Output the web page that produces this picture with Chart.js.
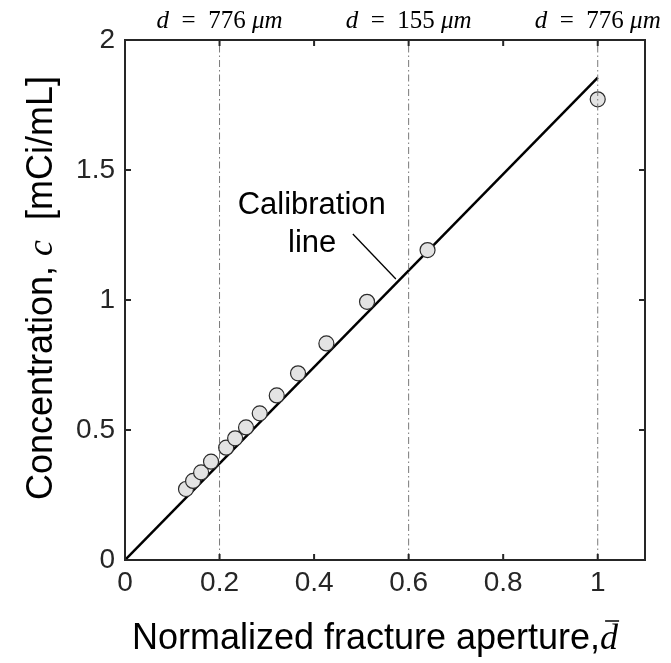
<!DOCTYPE html>
<html>
<head>
<meta charset="utf-8">
<script src="https://cdn.jsdelivr.net/npm/chart.js@4/dist/chart.umd.min.js"></script>
<style>
  body { margin: 0; background: #fff; }
  canvas { display: block; }
</style>
</head>
<body>
<canvas id="calChart" width="671" height="663"></canvas>
<script>
// measured points (normalized aperture vs concentration)
const apertureX = [0.129, 0.144, 0.161, 0.182, 0.214, 0.233, 0.256, 0.285, 0.321, 0.366, 0.426, 0.512, 0.640, 1.0];
const concY = [0.273, 0.304, 0.337, 0.378, 0.432, 0.468, 0.510, 0.564, 0.633, 0.718, 0.833, 0.993, 1.192, 1.772];

// calibration line end points
const fitX = [0, 1.0];
const fitY = [0, 1.855];

// dash-dot guides and the aperture written above them (um)
const guideX = [0.2, 0.6, 1.0];
const guideD = ['776', '155', '776'];

const xTicks = [0, 0.2, 0.4, 0.6, 0.8, 1];
const yTicks = [0, 0.5, 1, 1.5, 2];

// "Calibration line" note: text anchors and leader line (data coords)
const noteTextX = [0.395, 0.396];
const noteTextY = [1.362, 1.219];
const noteText = ['Calibration', 'line'];
const leaderX = [0.482, 0.573];
const leaderY = [1.254, 1.081];

const SANS = '"Liberation Sans", Arial, sans-serif';
const SERIF = '"Liberation Serif", "Times New Roman", serif';
const AXIS = '#262626';

function drawRuns(ctx, runs, x, y) {
  // runs drawn left to right, centred on x
  let total = 0;
  runs.forEach(r => { ctx.font = r.f; r.w = ctx.measureText(r.t).width; total += r.w; });
  let cx = x - total / 2;
  ctx.textAlign = 'left';
  runs.forEach(r => { ctx.font = r.f; ctx.fillText(r.t, cx, y); r.x = cx; cx += r.w; });
  return runs;
}

const decorPlugin = {
  id: 'decor',
  afterDatasetsDraw(chart) {
    const ctx = chart.ctx;
    const a = chart.chartArea;
    const xs = chart.scales.x, ys = chart.scales.y;
    ctx.save();

    // box and inward ticks
    ctx.strokeStyle = AXIS;
    ctx.lineWidth = 2;
    ctx.strokeRect(a.left, a.top, a.right - a.left, a.bottom - a.top);
    ctx.beginPath();
    xTicks.forEach(v => {
      const px = xs.getPixelForValue(v);
      ctx.moveTo(px, a.bottom); ctx.lineTo(px, a.bottom - 6);
      ctx.moveTo(px, a.top); ctx.lineTo(px, a.top + 6);
    });
    yTicks.forEach(v => {
      const py = ys.getPixelForValue(v);
      ctx.moveTo(a.left, py); ctx.lineTo(a.left + 6, py);
      ctx.moveTo(a.right, py); ctx.lineTo(a.right - 6, py);
    });
    ctx.stroke();

    // labels above guides
    ctx.fillStyle = '#000';
    ctx.textBaseline = 'alphabetic';
    guideX.forEach((g, i) => {
      drawRuns(ctx, [
        { t: 'd', f: 'italic 25px ' + SERIF },
        { t: '  =  ' + guideD[i] + ' ', f: '25px ' + SERIF },
        { t: 'μm', f: 'italic 25px ' + SERIF }
      ], xs.getPixelForValue(g), 28);
    });

    // calibration note
    ctx.font = '31px ' + SANS;
    ctx.textAlign = 'center';
    ctx.textBaseline = 'middle';
    noteText.forEach((t, i) => {
      ctx.fillText(t, xs.getPixelForValue(noteTextX[i]), ys.getPixelForValue(noteTextY[i]));
    });
    ctx.strokeStyle = '#000';
    ctx.lineWidth = 1.3;
    ctx.beginPath();
    ctx.moveTo(xs.getPixelForValue(leaderX[0]), ys.getPixelForValue(leaderY[0]));
    ctx.lineTo(xs.getPixelForValue(leaderX[1]), ys.getPixelForValue(leaderY[1]));
    ctx.stroke();

    // x axis title
    ctx.textBaseline = 'alphabetic';
    const runs = drawRuns(ctx, [
      { t: 'Normalized fracture aperture,', f: '36px ' + SANS },
      { t: 'd', f: 'italic 36px ' + SERIF }
    ], 375, 649);
    const d = runs[1];
    ctx.lineWidth = 1.5;
    ctx.beginPath();
    ctx.moveTo(d.x + 5, 621); ctx.lineTo(d.x + d.w + 1, 621);
    ctx.stroke();

    // y axis title
    ctx.translate(52, 288);
    ctx.rotate(-Math.PI / 2);
    drawRuns(ctx, [
      { t: 'Concentration, ', f: '36px ' + SANS },
      { t: 'c', f: 'italic 36px ' + SERIF },
      { t: '  [mCi/mL]', f: '36px ' + SANS }
    ], 0, 0);
    ctx.restore();
  }
};

const guideSets = guideX.map(g => ({
  type: 'line',
  data: [{ x: g, y: 0 }, { x: g, y: 2 }],
  borderColor: '#7a7a7a',
  borderWidth: 1,
  borderDash: [7, 3, 1.5, 3],
  pointRadius: 0,
  fill: false
}));

new Chart(document.getElementById('calChart'), {
  type: 'scatter',
  data: {
    datasets: [
      ...guideSets,
      {
        data: apertureX.map((x, i) => ({ x: x, y: concY[i] })),
        backgroundColor: '#e3e3e3',
        borderColor: '#2b2b2b',
        borderWidth: 1.2,
        pointRadius: 7.5
      },
      {
        type: 'line',
        data: fitX.map((x, i) => ({ x: x, y: fitY[i] })),
        borderColor: '#000',
        borderWidth: 2.5,
        pointRadius: 0,
        fill: false
      }
    ]
  },
  options: {
    responsive: false,
    animation: false,
    layout: { padding: { top: 40, right: 26, left: 0, bottom: 0 } },
    plugins: { legend: { display: false }, tooltip: { enabled: false } },
    scales: {
      x: {
        type: 'linear', min: 0, max: 1.1,
        grid: { display: false, drawTicks: false },
        border: { display: false },
        ticks: { font: { family: SANS, size: 28 }, color: AXIS, padding: 6, maxRotation: 0, autoSkip: false, callback: v => String(v) },
        afterBuildTicks: s => { s.ticks = xTicks.map(v => ({ value: v })); },
        afterFit: s => { s.height = 103; }
      },
      y: {
        type: 'linear', min: 0, max: 2,
        grid: { display: false, drawTicks: false },
        border: { display: false },
        ticks: { font: { family: SANS, size: 28 }, color: AXIS, padding: 10, autoSkip: false, callback: v => String(v) },
        afterBuildTicks: s => { s.ticks = yTicks.map(v => ({ value: v })); },
        afterFit: s => { s.width = 125; }
      }
    }
  },
  plugins: [decorPlugin]
});
</script>
</body>
</html>
